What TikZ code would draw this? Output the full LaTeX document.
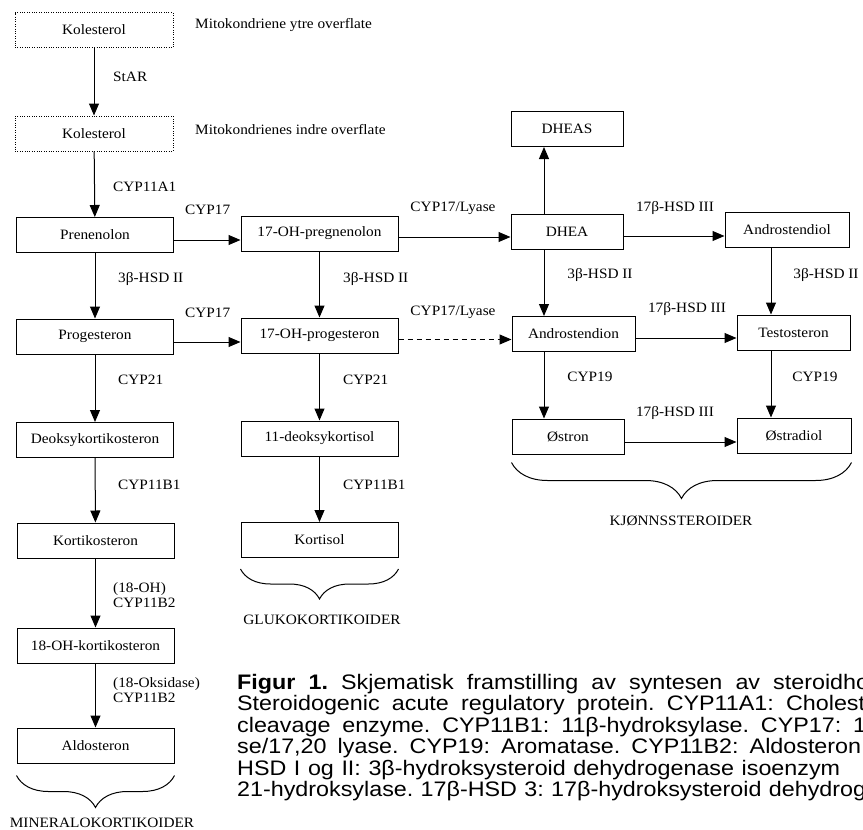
\documentclass[tikz,border=0pt]{standalone}
\usepackage{fontspec}
\setmainfont{Liberation Serif}[FakeStretch=1.07]
\newfontfamily\capfont{Liberation Sans}[FakeStretch=1.11]
\usetikzlibrary{arrows.meta,decorations.pathreplacing}
\frenchspacing

\begin{document}
\begin{tikzpicture}[x=1pt,y=-1pt,
  font=\fontsize{14.3}{15}\selectfont,
  box/.style={draw,line width=1pt,minimum width=157,minimum height=35,inner sep=0},
  mito/.style={box,dash pattern=on .8pt off 1.6pt},
  lbl/.style={inner sep=0,anchor=west},
  arr/.style={line width=1pt,-{Triangle[length=12pt,width=10pt]}},
  brc/.style={line width=1pt,decorate,decoration={brace,mirror,amplitude=#1}},
  capline/.style={inner sep=0,anchor=base west,font=\capfont\fontsize{21}{21.5}\selectfont}]
  \useasboundingbox (0,0) rectangle (863,830);
  % cholesterol
  \node[mito,minimum width=158] at(94,30)(kol1){Kolesterol};
  \node[lbl] at(195,25)(ytre){Mitokondriene ytre overflate};
  \node[mito,minimum width=158] at(94,133.5)(kol2){Kolesterol};
  \node[lbl] at(195,130)(indre){Mitokondrienes indre overflate};
  % mineralocorticoid column
  \node[box] at(95,235)(pre){Prenenolon};
  \node[box] at(95,336.5)(prog){Progesteron};
  \node[box] at(95,440)(deok){Deoksykortikosteron};
  \node[box] at(95.5,540.5)(kost){Kortikosteron};
  \node[box] at(95.5,645.5)(ohkost){18-OH-kortikosteron};
  \node[box] at(95.5,745.5)(aldo){Aldosteron};
  % glucocorticoid column
  \node[box] at(319.5,233.5)(ohpreg){17-OH-pregnenolon};
  \node[box] at(319.5,335.5)(ohprog){17-OH-progesteron};
  \node[box] at(319.5,438.5)(dkort){11-deoksykortisol};
  \node[box] at(319.5,540)(kort){Kortisol};
  % sex steroids
  \node[box,minimum width=112] at(567,129)(dheas){DHEAS};
  \node[box,minimum width=112] at(567,231.5)(dhea){DHEA};
  \node[box,minimum width=123] at(573.5,334)(andion){Androstendion};
  \node[box,minimum width=112] at(568,436.5)(ostron){Østron};
  \node[box,minimum width=124] at(787,230)(andiol){Androstendiol};
  \node[box,minimum width=113] at(793.5,332.5)(testo){Testosteron};
  \node[box,minimum width=114] at(794,435.5)(ostradiol){Østradiol};
  \coordinate (c3) at(544,0);
  \coordinate (c4) at(771,0);
  % vertical arrows
  \draw[arr](kol1) -- (kol2);
  \draw[arr](kol2) -- (pre);
  \draw[arr](pre) -- (prog);
  \draw[arr](prog) -- (deok);
  \draw[arr](deok) -- (kost);
  \draw[arr](kost) -- (ohkost);
  \draw[arr](ohkost) -- (aldo);
  \draw[arr](ohpreg) -- (ohprog);
  \draw[arr](ohprog) -- (dkort);
  \draw[arr](dkort) -- (kort);
  \draw[arr](dhea.north -| c3) -- (dheas.south -| c3);
  \draw[arr](dhea.south -| c3) -- (andion.north -| c3);
  \draw[arr](andion.south -| c3) -- (ostron.north -| c3);
  \draw[arr](andiol.south -| c4) -- (testo.north -| c4);
  \draw[arr](testo.south -| c4) -- (ostradiol.north -| c4);
  % horizontal arrows
  \draw[arr]([yshift=-5pt]pre.east) -- ([yshift=-5pt]pre.east -| ohpreg.west);
  \draw[arr]([yshift=-5.5pt]prog.east) -- ([yshift=-5.5pt]prog.east -| ohprog.west);
  \draw[arr]([yshift=-3.5pt]ohpreg.east) -- ([yshift=-3.5pt]ohpreg.east -| dhea.west);
  \draw[arr,dash pattern=on 5pt off 4pt]([yshift=-4pt]ohprog.east) -- ([yshift=-4pt]ohprog.east -| andion.west);
  \draw[arr]([yshift=-4.5pt]dhea.east) -- ([yshift=-4.5pt]dhea.east -| andiol.west);
  \draw[arr]([yshift=-4pt]andion.east) -- ([yshift=-4pt]andion.east -| testo.west);
  \draw[arr]([yshift=-5.5pt]ostron.east) -- ([yshift=-5.5pt]ostron.east -| ostradiol.west);
  % enzymes
  \node[lbl] at(113,77)(star){StAR};
  \node[lbl] at(113,187)(cyp11a1){CYP11A1};
  \node[lbl] at(185,210)(cyp17a){CYP17};
  \node[lbl] at(185,313)(cyp17b){CYP17};
  \node[lbl] at(118,279)(hsda){3β-HSD II};
  \node[lbl] at(343,279)(hsdb){3β-HSD II};
  \node[lbl] at(118,380)(cyp21a){CYP21};
  \node[lbl] at(343,380)(cyp21b){CYP21};
  \node[lbl] at(118,485)(cyp11b1a){CYP11B1};
  \node[lbl] at(343,485)(cyp11b1b){CYP11B1};
  \node[lbl,align=left] at(113,595.5)(cyp11b2a){(18-OH)\\CYP11B2};
  \node[lbl,align=left] at(113,690.5)(cyp11b2b){(18-Oksidase)\\CYP11B2};
  \node[inner sep=0] at(453,208)(lyasea){CYP17/Lyase};
  \node[inner sep=0] at(453,312)(lyaseb){CYP17/Lyase};
  \node[inner sep=0] at(675,208)(hsd17a){17β-HSD III};
  \node[inner sep=0] at(687,309)(hsd17b){17β-HSD III};
  \node[inner sep=0] at(675,413)(hsd17c){17β-HSD III};
  \node[inner sep=0] at(600,275)(hsdc){3β-HSD II};
  \node[inner sep=0] at(826,275)(hsdd){3β-HSD II};
  \node[inner sep=0] at(590,377)(cyp19a){CYP19};
  \node[inner sep=0] at(815,377)(cyp19b){CYP19};
  % groups
  \draw[brc=32pt]([yshift=-12pt]aldo.south west) -- ([yshift=-12pt]aldo.south east);
  \draw[brc=30pt]([yshift=-11pt]kort.south west) -- ([yshift=-11pt]kort.south east);
  \draw[brc=36pt]([yshift=-8pt]ostron.south west) -- ([yshift=-8pt]ostron.south west -| ostradiol.south east);
  \node at(102,823)(mineral){MINERALOKORTIKOIDER};
  \node at(322,620)(gluko){GLUKOKORTIKOIDER};
  \node at(681,521)(kjonn){KJØNNSSTEROIDER};
  % caption
  \node[capline] at(237,689)(cap1){\makebox[632pt][s]{\textbf{Figur 1.} Skjematisk framstilling av syntesen av steroidho}};
  \node[capline] at(237,710.5)(cap2){\makebox[628pt][s]{Steroidogenic acute regulatory protein. CYP11A1: Cholest}};
  \node[capline] at(237,732)(cap3){\makebox[629pt][s]{cleavage enzyme. CYP11B1: 11β-hydroksylase. CYP17: 1}};
  \node[capline] at(237,753.5)(cap4){\makebox[624pt][s]{se/17,20 lyase. CYP19: Aromatase. CYP11B2: Aldosteron}};
  \node[capline] at(237,775)(cap5){\makebox[603pt][s]{HSD I og II: 3β-hydroksysteroid dehydrogenase isoenzym}};
  \node[capline] at(237,796.5)(cap6){\makebox[629pt][s]{21-hydroksylase. 17β-HSD 3: 17β-hydroksysteroid dehydrog}};
\end{tikzpicture}
\end{document}
